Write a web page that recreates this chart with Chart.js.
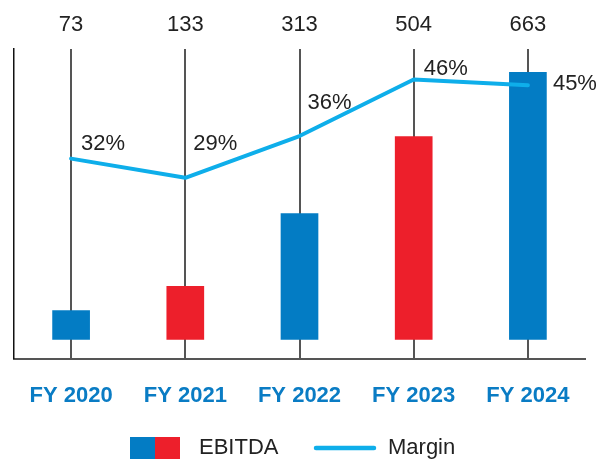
<!DOCTYPE html>
<html>
<head>
<meta charset="utf-8">
<script src="https://cdn.jsdelivr.net/npm/chart.js@4"></script>
<style>
  html, body { margin: 0; padding: 0; background: #fff; }
  #wrap { width: 616px; height: 462px; }
</style>
</head>
<body>
<div id="wrap"><canvas id="chart" width="616" height="462"></canvas></div>
<script>
// data
const years = ['FY 2020', 'FY 2021', 'FY 2022', 'FY 2023', 'FY 2024'];
const ebitda = [73, 133, 313, 504, 663];
const margin = [32, 28.6, 36, 46, 45];

const blue = '#037cc4';
const red = '#ed1f2b';
const lineBlue = '#0eaeea';
const barColors = [blue, red, blue, red, blue];

// where each % label sits relative to its point (dx to text start, dy to text middle)
const pctOffsets = [[10, -15], [8, -34], [8, -33], [10, -11], [25, -1]];

const labelsPlugin = {
  id: 'labels',
  afterDatasetsDraw(chart) {
    const ctx = chart.ctx;
    const area = chart.chartArea;
    const bars = chart.getDatasetMeta(1).data;
    const pts = chart.getDatasetMeta(0).data;
    ctx.save();
    ctx.font = '22px "Liberation Sans", Arial, sans-serif';
    ctx.fillStyle = '#222';
    ctx.textBaseline = 'middle';
    ctx.textAlign = 'center';
    bars.forEach((b, i) => {
      ctx.fillText(String(ebitda[i]), b.x, area.top - 24);
    });
    ctx.textAlign = 'left';
    pts.forEach((p, i) => {
      const o = pctOffsets[i];
      ctx.fillText(Math.round(margin[i]) + '%', p.x + o[0], p.y + o[1]);
    });

    // legend
    const ly = 448;
    ctx.fillStyle = blue;
    ctx.fillRect(130, ly - 11, 25, 22);
    ctx.fillStyle = red;
    ctx.fillRect(155, ly - 11, 25, 22);
    ctx.fillStyle = '#222';
    ctx.fillText('EBITDA', 199, ly);
    ctx.strokeStyle = lineBlue;
    ctx.lineWidth = 4.5;
    ctx.lineCap = 'round';
    ctx.beginPath();
    ctx.moveTo(316, ly);
    ctx.lineTo(374, ly);
    ctx.stroke();
    ctx.fillText('Margin', 388, ly);
    ctx.restore();
  }
};

new Chart(document.getElementById('chart'), {
  data: {
    labels: years,
    datasets: [
      {
        type: 'line',
        label: 'Margin',
        data: margin,
        yAxisID: 'y1',
        borderColor: lineBlue,
        borderWidth: 4,
        borderCapStyle: 'round',
        borderJoinStyle: 'round',
        pointRadius: 0,
        tension: 0,
        order: 0
      },
      {
        type: 'bar',
        label: 'EBITDA',
        data: ebitda,
        yAxisID: 'y',
        backgroundColor: barColors,
        barPercentage: 0.33,
        categoryPercentage: 1,
        order: 1
      }
    ]
  },
  options: {
    responsive: false,
    animation: false,
    layout: { padding: { top: 49, left: 14, right: 31, bottom: 29 } },
    plugins: { legend: { display: false }, tooltip: { enabled: false } },
    scales: {
      x: {
        offset: true,
        grid: { offset: false, color: '#555', lineWidth: 2, drawTicks: false },
        border: { display: true, color: '#555', width: 2 },
        ticks: {
          padding: 24,
          color: '#0a7cc4',
          font: { family: '"Liberation Sans", Arial, sans-serif', size: 22, weight: 'bold' }
        }
      },
      y: {
        min: -47,
        max: 720,
        grid: { display: false, drawTicks: false },
        border: { display: true, color: '#111', width: 1.5 },
        ticks: { display: false }
      },
      y1: {
        position: 'right',
        min: -3.4,
        max: 51.4,
        display: false
      }
    }
  },
  plugins: [labelsPlugin]
});
</script>
</body>
</html>
